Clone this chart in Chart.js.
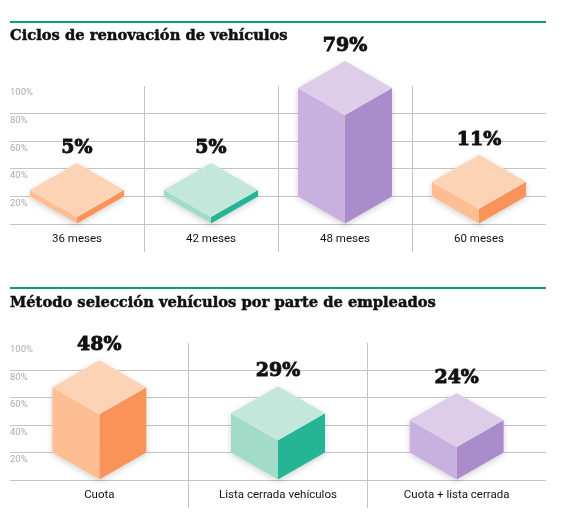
<!DOCTYPE html>
<html>
<head>
<meta charset="utf-8">
<script src="https://cdn.jsdelivr.net/npm/chart.js@4/dist/chart.umd.min.js"></script>
<style>
  body { margin: 0; background: #fff; width: 580px; height: 529px; position: relative; overflow: hidden; }
  .title { position: absolute; left: 10px; width: 536px; border-top: 2px solid #0b9e7c;
           font: bold 14.7px "DejaVu Serif", serif; color: #111; z-index: 2;
           -webkit-text-stroke: 0.5px #111; }
  #t1 { top: 21px; line-height: 24px; }
  #t2 { top: 287px; line-height: 26px; }
  canvas { position: absolute; left: 0; }
  #c1 { top: 0; }
  #c2 { top: 260px; }
</style>
</head>
<body>
<div class="title" id="t1">Ciclos de renovación de vehículos</div>
<div class="title" id="t2">Método selección vehículos por parte de empleados</div>
<canvas id="c1" width="580" height="260"></canvas>
<canvas id="c2" width="580" height="260"></canvas>
<script>
// data
const cycleLabels = ['36 meses', '42 meses', '48 meses', '60 meses'];
const cycleValues = [5, 5, 79, 11];
const methodLabels = ['Cuota', 'Lista cerrada vehículos', 'Cuota + lista cerrada'];
const methodValues = [48, 29, 24];
const yTicks = [0, 20, 40, 60, 80, 100];

// top / left / right face colours
const orange = ['#fdd0b0', '#fdb98c', '#f98b4c'];
const teal = ['#bfe5d8', '#9bd8c4', '#14ae8c'];
const purple = ['#dbc9e7', '#c4abdc', '#a383c5'];

const cycleColors = [orange, teal, purple, orange];
const methodColors = [orange, teal, purple];

const HALF_W = 47; // half width of a box
const DEPTH = 27;  // vertical half-height of the top face

// draws each bar as an isometric box with the value above it
const boxPlugin = {
	id: 'boxes',
	afterDatasetsDraw(chart) {
		const ctx = chart.ctx;
		const meta = chart.getDatasetMeta(0);
		const colors = chart.options.plugins.boxes.colors;
		const values = chart.data.datasets[0].data;
		meta.data.forEach((bar, i) => {
			const x = bar.x, base = bar.base, top = bar.y;
			const c = colors[i];
			const F = [x, base], L = [x - HALF_W, base - DEPTH], R = [x + HALF_W, base - DEPTH];
			const Ft = [x, top], Lt = [x - HALF_W, top - DEPTH], Rt = [x + HALF_W, top - DEPTH], Bt = [x, top - 2 * DEPTH];
			const poly = (pts, fill) => {
				ctx.beginPath();
				ctx.moveTo(pts[0][0], pts[0][1]);
				pts.slice(1).forEach(p => ctx.lineTo(p[0], p[1]));
				ctx.closePath();
				ctx.fillStyle = fill;
				ctx.fill();
			};
			ctx.save();
			// soft shadow
			ctx.shadowColor = 'rgba(0,0,0,0.18)';
			ctx.shadowBlur = 6;
			ctx.shadowOffsetY = 2;
			poly([F, R, Rt, Bt, Lt, L], '#fff');
			ctx.restore();
			ctx.save();
			ctx.globalAlpha = 0.93;
			poly([L, F, Ft, Lt], c[1]);
			poly([F, R, Rt, Ft], c[2]);
			poly([Ft, Lt, Bt, Rt], c[0]);
			ctx.restore();
			// value label
			ctx.save();
			ctx.font = 'bold 19px "DejaVu Serif", serif';
			ctx.fillStyle = '#111';
			ctx.strokeStyle = '#111';
			ctx.lineWidth = 0.9;
			ctx.textAlign = 'center';
			ctx.textBaseline = 'middle';
			ctx.fillText(values[i] + '%', x, Bt[1] - 15);
			ctx.strokeText(values[i] + '%', x, Bt[1] - 15);
			ctx.restore();
		});
	}
};

function makeChart(id, labels, values, colors, padTop, axisH) {
	return new Chart(document.getElementById(id), {
		type: 'bar',
		data: {
			labels: labels,
			datasets: [{
				data: values,
				backgroundColor: 'rgba(0,0,0,0)',
				borderWidth: 0
			}]
		},
		plugins: [boxPlugin],
		options: {
			responsive: false,
			animation: false,
			layout: { padding: { left: 10, right: 34, top: padTop, bottom: 0 } },
			plugins: {
				legend: { display: false },
				tooltip: { enabled: false },
				boxes: { colors: colors }
			},
			scales: {
				y: {
					min: 0,
					max: 100,
					afterBuildTicks: s => { s.ticks = yTicks.map(v => ({ value: v })); },
					afterFit: s => { s.width = 0; },
					border: { display: false },
					grid: {
						drawTicks: false,
						color: ctx => ctx.tick && ctx.tick.value === 100 ? 'rgba(0,0,0,0)' : '#c4c4c4'
					},
					ticks: {
						mirror: true,
						padding: 0,
						labelOffset: 7,
						color: '#ababab',
						font: { family: 'Roboto', size: 9.5 },
						callback: v => v === 0 ? '' : v + '%'
					}
				},
				x: {
					afterFit: s => { s.height = axisH; },
					border: { display: false },
					grid: {
						offset: true,
						drawTicks: true,
						tickLength: 28,
						color: ctx => (ctx.type !== 'tick' || ctx.index === 0) ? 'rgba(0,0,0,0)' : '#c4c4c4'
					},
					ticks: {
						padding: -20,
						color: '#111',
						font: { family: 'Roboto', size: 11.5 }
					}
				}
			}
		}
	});
}

makeChart('c1', cycleLabels, cycleValues, cycleColors, 86, 36);
makeChart('c2', methodLabels, methodValues, methodColors, 83, 40);
</script>
</body>
</html>
